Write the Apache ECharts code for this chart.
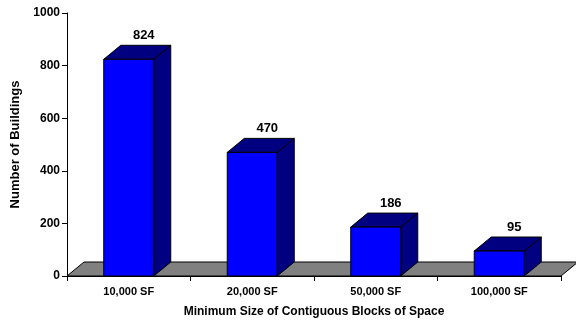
<!DOCTYPE html>
<html>
<head>
<meta charset="utf-8">
<script src="https://cdn.jsdelivr.net/npm/echarts@6/dist/echarts.min.js"></script>
<style>
  html, body { margin: 0; padding: 0; background: #fff; }
  #chart { width: 576px; height: 320px; }
</style>
</head>
<body>
<div id="chart"></div>
<script>
// Buildings offering contiguous blocks of space, by minimum block size
const categories = ['10,000 SF', '20,000 SF', '50,000 SF', '100,000 SF'];
const buildings = [824, 470, 186, 95];
const yTicks = [0, 200, 400, 600, 800, 1000];

const FONT = 'Liberation Sans, Arial, sans-serif';
const DEPTH_X = 17;   // oblique depth of the 3D boxes
const DEPTH_Y = -14;
const FRONT = '#0000ff';
const SHADE = '#000080';
const FLOOR = '#808080';

const chart = echarts.init(document.getElementById('chart'));

function renderFloor(params, api) {
  const cs = params.coordSys;
  const y0 = api.coord([0, 0])[1];
  const x0 = cs.x, x1 = cs.x + cs.width;
  return {
    type: 'polygon',
    silent: true,
    shape: { points: [[x0, y0], [x0 + DEPTH_X, y0 + DEPTH_Y], [x1 + DEPTH_X, y0 + DEPTH_Y], [x1, y0]] },
    style: { fill: FLOOR, stroke: '#000', lineWidth: 1 }
  };
}

function renderBox(params, api) {
  const idx = api.value(0);
  const val = api.value(1);
  const top = api.coord([idx, val]);
  const base = api.coord([idx, 0]);
  const w = api.size([1, 0])[0] * 0.405;
  const xl = top[0] - w / 2, xr = top[0] + w / 2;
  const yt = top[1], yb = base[1];
  const line = { stroke: '#000', lineWidth: 1, lineJoin: 'round' };
  return {
    type: 'group',
    children: [
      {
        type: 'polygon',
        shape: { points: [[xr, yb], [xr + DEPTH_X, yb + DEPTH_Y], [xr + DEPTH_X, yt + DEPTH_Y], [xr, yt]] },
        style: Object.assign({ fill: SHADE }, line)
      },
      {
        type: 'polygon',
        shape: { points: [[xl, yt], [xl + DEPTH_X, yt + DEPTH_Y], [xr + DEPTH_X, yt + DEPTH_Y], [xr, yt]] },
        style: Object.assign({ fill: SHADE }, line)
      },
      {
        type: 'rect',
        shape: { x: xl, y: yt, width: w, height: yb - yt },
        style: Object.assign({ fill: FRONT }, line)
      },
      {
        type: 'text',
        style: {
          text: String(val),
          x: top[0] + 15,
          y: yt + DEPTH_Y - 3,
          align: 'center',
          verticalAlign: 'bottom',
          font: 'bold 13px ' + FONT,
          fill: '#000'
        }
      }
    ]
  };
}

chart.setOption({
  animation: false,
  backgroundColor: '#fff',
  grid: { left: 67, right: 15, top: 13, bottom: 44, containLabel: false, outerBoundsMode: 'none' },
  xAxis: {
    type: 'category',
    data: categories,
    boundaryGap: true,
    name: 'Minimum Size of Contiguous Blocks of Space',
    nameLocation: 'middle',
    nameGap: 30,
    nameTextStyle: { fontFamily: FONT, fontWeight: 'bold', fontSize: 12, color: '#000' },
    axisLine: { show: true, lineStyle: { color: '#000', width: 1 } },
    axisTick: { show: true, interval: 0, length: 5, lineStyle: { color: '#000' } },
    axisLabel: { interval: 0, margin: 10, fontFamily: FONT, fontWeight: 'bold', fontSize: 11, color: '#000' },
    splitLine: { show: false },
    z: 1
  },
  yAxis: {
    type: 'value',
    min: yTicks[0],
    max: yTicks[yTicks.length - 1],
    interval: yTicks[1] - yTicks[0],
    name: 'Number of Buildings',
    nameLocation: 'middle',
    nameGap: 41,
    nameTextStyle: { fontFamily: FONT, fontWeight: 'bold', fontSize: 13, color: '#000' },
    axisLine: { show: true, lineStyle: { color: '#000', width: 1 } },
    axisTick: { show: true, length: 5, lineStyle: { color: '#000' } },
    axisLabel: { margin: 7, formatter: v => String(v), fontFamily: FONT, fontWeight: 'bold', fontSize: 12, color: '#000' },
    splitLine: { show: false }
  },
  series: [
    {
      type: 'custom',
      name: 'floor',
      data: [[0, 0]],
      renderItem: renderFloor,
      z: 2,
      silent: true
    },
    {
      type: 'custom',
      name: 'Number of Buildings',
      data: buildings.map((v, i) => [i, v]),
      renderItem: renderBox,
      encode: { x: 0, y: 1 },
      z: 3
    }
  ]
});
</script>
</body>
</html>
